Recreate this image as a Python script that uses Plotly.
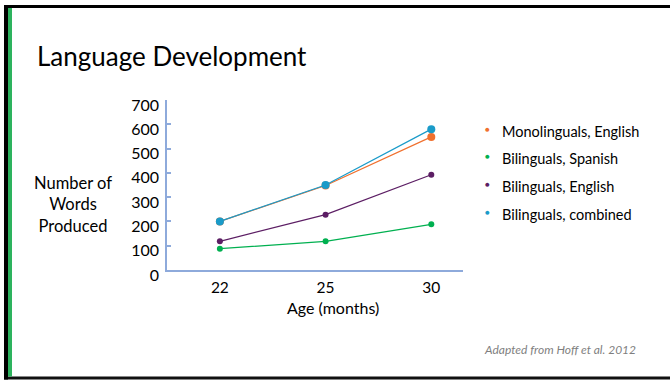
import plotly.graph_objects as go

ages = ["22", "25", "30"]
mono_english = [200, 348, 548]
bil_spanish = [88, 118, 188]
bil_english = [118, 228, 392]
bil_combined = [200, 350, 580]

series_names = ["Monolinguals, English", "Bilinguals, Spanish", "Bilinguals, English", "Bilinguals, combined"]
series_values = [mono_english, bil_spanish, bil_english, bil_combined]
series_colors = ["#F0702E", "#00B050", "#5C1E64", "#1A9BC9"]
marker_sizes = [8, 6, 6, 8]

y_ticks = [0, 100, 200, 300, 400, 500, 600, 700]

W, H = 670, 381
FONT = "Lato"

def px(x):
    return x / W

def py(y):
    return 1 - y / H

fig = go.Figure()
# draw order: green, purple, orange, blue on top
for i in [1, 2, 0, 3]:
    fig.add_trace(go.Scatter(
        x=ages, y=series_values[i], mode="lines+markers",
        line=dict(color=series_colors[i], width=1.2),
        marker=dict(color=series_colors[i], size=marker_sizes[i]),
        name=series_names[i], showlegend=False,
    ))

fig.update_layout(
    template="none",
    width=W, height=H,
    margin=dict(l=0, r=0, t=0, b=0, pad=0, autoexpand=False),
    showlegend=False,
    paper_bgcolor="white", plot_bgcolor="white",
    font=dict(family=FONT, color="#000000", size=16),
    xaxis=dict(
        domain=[px(167), px(463)], type="category", range=[-0.5, 2.3],
        automargin=False,
        showline=True, linecolor="#8EAADB", linewidth=1.5,
        showgrid=False, zeroline=False, ticks="",
        tickfont=dict(size=15.5, family=FONT, color="#000000"), ticklabelstandoff=3,
    ),
    yaxis=dict(
        domain=[py(270), py(100)], range=[0, 700],
        automargin=False,
        tickvals=y_ticks,
        showline=True, linecolor="#8EAADB", linewidth=1.5,
        showgrid=False, zeroline=False,
        ticks="inside", ticklen=4, tickcolor="#8EAADB", tickwidth=1.5,
        tickfont=dict(size=16, family=FONT, color="#000000"), ticklabelshift=5,
        ticklabelstandoff=3,
    ),
)

# frame
shapes = [
    dict(type="rect", xref="paper", yref="paper", x0=px(4), x1=1, y0=py(8), y1=py(5),
         fillcolor="#000000", line=dict(width=0)),
    dict(type="rect", xref="paper", yref="paper", x0=px(4), x1=1, y0=py(379.5), y1=py(376.5),
         fillcolor="#111111", line=dict(width=0)),
    dict(type="rect", xref="paper", yref="paper", x0=px(4), x1=px(8), y0=py(379.5), y1=py(5),
         fillcolor="#000000", line=dict(width=0)),
    dict(type="rect", xref="paper", yref="paper", x0=px(8), x1=px(12), y0=py(376.5), y1=py(8),
         fillcolor="#2DB35E", line=dict(width=0)),
]
fig.update_layout(shapes=shapes)

ann = []
ann.append(dict(text="Language Development", x=px(35), y=py(56), xref="paper", yref="paper",
                xanchor="left", yanchor="middle", showarrow=False,
                font=dict(size=26, family=FONT, color="#000000")))
ann.append(dict(text="Number of<br>Words<br>Produced", x=px(73), y=py(204), xref="paper", yref="paper",
                xanchor="center", yanchor="middle", showarrow=False, align="center",
                font=dict(size=16.5, family=FONT, color="#000000")))
ann.append(dict(text="Age (months)", x=px(333), y=py(307), xref="paper", yref="paper",
                xanchor="center", yanchor="middle", showarrow=False,
                font=dict(size=16, family=FONT, color="#000000")))
ann.append(dict(text="<i>Adapted from Hoff et al. 2012</i>", x=px(638), y=py(349), xref="paper", yref="paper",
                xanchor="right", yanchor="middle", showarrow=False,
                font=dict(size=12, family=FONT, color="#7F7F7F")))

legend_rows = [131, 158, 186, 214]
for name, color, yrow in zip(series_names, series_colors, legend_rows):
    ann.append(dict(text="●", x=px(487), y=py(yrow - 2), xref="paper", yref="paper",
                    xanchor="center", yanchor="middle", showarrow=False,
                    font=dict(size=8, color=color)))
    ann.append(dict(text=name, x=px(500), y=py(yrow), xref="paper", yref="paper",
                    xanchor="left", yanchor="middle", showarrow=False,
                    font=dict(size=14.5, family=FONT, color="#000000")))
fig.update_layout(annotations=ann)

fig.write_html("out.html")
